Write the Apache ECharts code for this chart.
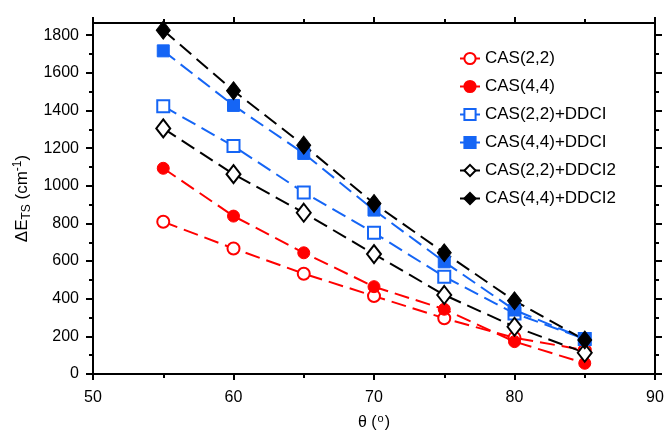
<!DOCTYPE html>
<html>
<head>
<meta charset="utf-8">
<script src="https://cdn.jsdelivr.net/npm/echarts@6/dist/echarts.min.js"></script>
<style>html,body{margin:0;padding:0;background:#fff}#c{width:665px;height:430px}</style>
</head>
<body>
<div id="c"></div>
<script>
// angle θ (deg)
const theta = [55, 60, 65, 70, 75, 80, 85]
const cas22 = [809, 667, 533, 414, 296, 192, 127]
const cas44 = [1093, 839, 644, 464, 344, 172, 57]
const cas22ddci = [1423, 1211, 965, 750, 517, 322, 186]
const cas44ddci = [1717, 1427, 1172, 871, 596, 340, 186]
const cas22ddci2 = [1305, 1062, 857, 637, 420, 251, 113]
const cas44ddci2 = [1827, 1505, 1216, 906, 644, 389, 181]
const yMajor = [0, 200, 400, 600, 800, 1000, 1200, 1400, 1600, 1800]
const yMinor = [100, 300, 500, 700, 900, 1100, 1300, 1500, 1700]

const RED = '#ff0000', BLUE = '#1565f5', BLACK = '#000'
const font = 'Liberation Sans, Arial, sans-serif'

const chart = echarts.init(document.getElementById('c'), null, { renderer: 'canvas' })

const line = (name, data, color, symbol, size, open) => ({
  name, type: 'line', data: theta.map((t, i) => [t, data[i]]),
  symbol, symbolSize: size, showSymbol: true,
  lineStyle: { color, width: 2, type: [15, 7] },
  itemStyle: open ? { color: '#fff', borderColor: color, borderWidth: 2 } : { color, borderColor: color, borderWidth: 1 },
  emphasis: { disabled: true }, z: 3,
})

const yAx = (pos, ticks, len, labels) => ({
  type: 'value', min: 0, max: 1865, position: pos, splitLine: { show: false },
  axisLine: { show: true, onZero: false, lineStyle: { color: '#000', width: 2 } },
  axisTick: { show: true, inside: false, length: len, customValues: ticks, lineStyle: { color: '#000', width: 2 } },
  axisLabel: labels ? { show: true, customValues: yMajor, formatter: v => String(v), margin: 14, color: '#000', fontSize: 16, fontFamily: font } : { show: false },
})
const xAx = (pos, labels) => ({
  type: 'value', min: 50, max: 90, interval: 10, position: pos, splitLine: { show: false },
  axisLine: { show: true, onZero: false, lineStyle: { color: '#000', width: 2 } },
  axisTick: { show: true, inside: false, length: 6, lineStyle: { color: '#000', width: 2 } },
  minorTick: { show: true, splitNumber: 2, length: 4, lineStyle: { color: '#000', width: 2 } },
  axisLabel: labels ? { show: true, margin: 16, color: '#000', fontSize: 16, fontFamily: font } : { show: false },
})

chart.setOption({
  animation: false,
  textStyle: { fontFamily: font, color: '#000' },
  grid: { left: 93, right: 10, top: 23, bottom: 56, outerBoundsMode: 'none', containLabel: false },
  xAxis: [
    Object.assign(xAx('bottom', true), {
      name: '{t|θ (}{sup|o}{t|)}', nameLocation: 'middle', nameGap: 39,
      nameTextStyle: { rich: { t: { fontSize: 16, fontFamily: font, color: '#000' }, sup: { fontSize: 11, fontFamily: font, color: '#000', verticalAlign: 'top', padding: [0, 1, 8, 1] } } },
    }),
    xAx('top', false),
  ],
  yAxis: [
    Object.assign(yAx('left', yMajor, 7, true), {
      name: '{t|ΔE}{sub|TS}{t| (cm}{sup|-1}{t|)}', nameLocation: 'middle', nameGap: 53, nameRotate: 90,
      nameTextStyle: { rich: {
        t: { fontSize: 17, fontFamily: font, color: '#000' },
        sub: { fontSize: 12, fontFamily: font, color: '#000', padding: [9, 0, 0, 0] },
        sup: { fontSize: 12, fontFamily: font, color: '#000', padding: [0, 0, 9, 0] },
      } },
    }),
    yAx('left', yMinor, 4, false),
    yAx('right', yMajor, 7, false),
    yAx('right', yMinor, 4, false),
  ],
  legend: {
    orient: 'vertical', left: 454, top: 45, itemWidth: 20, itemHeight: 14, itemGap: 11,
    textStyle: { fontSize: 17, fontFamily: font, color: '#000', lineHeight: 17 },
    lineStyle: { type: 'solid' },
    data: ['CAS(2,2)', 'CAS(4,4)', 'CAS(2,2)+DDCI', 'CAS(4,4)+DDCI', 'CAS(2,2)+DDCI2', 'CAS(4,4)+DDCI2'],
  },
  series: [
    line('CAS(2,2)', cas22, RED, 'circle', 12, true),
    line('CAS(4,4)', cas44, RED, 'circle', 12, false),
    line('CAS(2,2)+DDCI', cas22ddci, BLUE, 'rect', 12, true),
    line('CAS(4,4)+DDCI', cas44ddci, BLUE, 'rect', 12, false),
    line('CAS(2,2)+DDCI2', cas22ddci2, BLACK, 'diamond', [14, 18], true),
    line('CAS(4,4)+DDCI2', cas44ddci2, BLACK, 'diamond', [14, 18], false),
  ],
})
</script>
</body>
</html>
